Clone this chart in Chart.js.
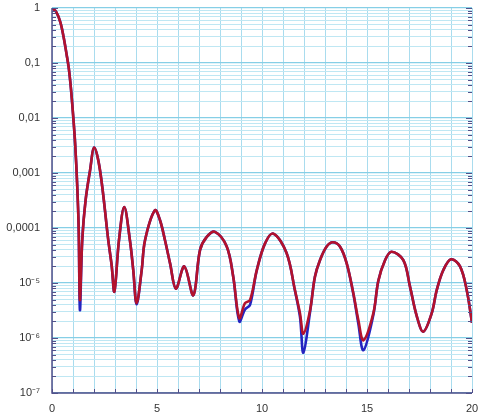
<!DOCTYPE html>
<html>
<head>
<meta charset="utf-8">
<script src="https://cdn.jsdelivr.net/npm/chart.js@4/dist/chart.umd.min.js"></script>
<style>
  html, body { margin: 0; padding: 0; background: #fff; }
  #wrap { width: 480px; height: 419px; }
</style>
</head>
<body>
<div id="wrap"><canvas id="chartCurvas"></canvas></div>
<script>
// abscissa shared by both curves
var xValues = [0, 0.2, 0.4, 0.55, 0.7, 0.8, 0.9, 1.0, 1.1, 1.2, 1.27, 1.33,
    1.44, 1.6, 1.81, 2.01, 2.29, 2.68, 2.84, 2.97,
    3.19, 3.44, 3.71, 3.87, 4.03,
    4.27, 4.43, 4.9, 5.14, 5.38, 5.62, 5.9,
    6.3, 6.73,
    7.05, 7.37, 7.76, 8.32, 8.63, 8.92,
    9.19, 9.43, 9.75, 10.14, 10.54, 11.17, 11.57, 11.81, 11.97,
    12.29, 12.52, 12.76, 13.08, 13.37, 13.71, 14.03, 14.35, 14.59, 14.83,
    15.3, 15.54, 15.86, 16.17, 16.73, 17.05, 17.37, 17.68,
    18.08, 18.32, 18.63, 19.0, 19.43, 19.75, 20];

var redValues = [1, 0.85, 0.55, 0.3, 0.14, 0.08, 0.035, 0.012, 0.0035, 0.0006, 0.0001, 4.9e-6,
    6e-5, 3.2e-4, 1.1e-3, 2.9e-3, 1.1e-3, 6e-5, 2.1e-5, 7e-6,
    6e-5, 2.4e-4, 6e-5, 1.7e-5, 4.3e-6,
    1.7e-5, 6e-5, 2.1e-4, 1.4e-4, 6e-5, 2.3e-5, 7.9e-6,
    2e-5, 6e-6,
    4e-5, 6.9e-5, 8.5e-5, 4.6e-5, 1.3e-5, 2.3e-6,
    4.3e-6, 4.9e-6, 1.7e-5, 5.2e-5, 7.9e-5, 3.5e-5, 7.4e-6, 2.8e-6, 1.2e-6,
    3.2e-6, 1.3e-5, 2.6e-5, 4.6e-5, 5.5e-5, 4.6e-5, 2.3e-5, 6.5e-6, 2.1e-6, 9.1e-7,
    2.8e-6, 1.1e-5, 2.6e-5, 3.7e-5, 2.6e-5, 8.5e-6, 2.5e-6, 1.3e-6,
    2.8e-6, 7.4e-6, 1.7e-5, 2.7e-5, 2e-5, 7.4e-6, 1.9e-6];

var blueValues = [1, 0.85, 0.55, 0.3, 0.14, 0.08, 0.035, 0.012, 0.0035, 0.0006, 0.0001, 3.2e-6,
    6e-5, 3.2e-4, 1.1e-3, 2.9e-3, 1.1e-3, 6e-5, 2.1e-5, 7e-6,
    6e-5, 2.4e-4, 6e-5, 1.7e-5, 4.1e-6,
    1.7e-5, 6e-5, 2.1e-4, 1.4e-4, 6e-5, 2.3e-5, 7.9e-6,
    2e-5, 6e-6,
    4e-5, 6.9e-5, 8.5e-5, 4.6e-5, 1.3e-5, 2e-6,
    3.3e-6, 4e-6, 1.7e-5, 5.2e-5, 7.9e-5, 3.5e-5, 7.2e-6, 2.4e-6, 5.4e-7,
    3e-6, 1.3e-5, 2.6e-5, 4.6e-5, 5.5e-5, 4.6e-5, 2.3e-5, 6.3e-6, 1.8e-6, 6e-7,
    2.6e-6, 1.1e-5, 2.6e-5, 3.7e-5, 2.6e-5, 8.5e-6, 2.5e-6, 1.3e-6,
    2.8e-6, 7.4e-6, 1.7e-5, 2.7e-5, 2e-5, 7.4e-6, 1.9e-6];

// y axis: decades and their labels
var yDecades = [1, 0.1, 0.01, 0.001, 0.0001, 1e-5, 1e-6, 1e-7];
var yTickLabels = ['1', '0,1', '0,01', '0,001', '0,0001', '10\u207B\u2075', '10\u207B\u2076', '10\u207B\u2077'];
var xTickLabels = ['0', '5', '10', '15', '20'];

function pts(ys) {
    return xValues.map(function (x, i) { return {x: x, y: ys[i]}; });
}

function decadeIndex(v) {
    for (var i = 0; i < yDecades.length; i++) {
        if (Math.abs(Math.log10(v) - Math.log10(yDecades[i])) < 1e-6) return i;
    }
    return -1;
}

var axisColor = '#52508a';

// small inward tick marks on the frame
var innerTicks = {
    id: 'innerTicks',
    afterDatasetsDraw: function (chart) {
        var ctx = chart.ctx, a = chart.chartArea;
        var ys = chart.scales.y, xs = chart.scales.x;
        ctx.save();
        ctx.strokeStyle = axisColor;
        ctx.lineWidth = 1;
        ys.ticks.forEach(function (t) {
            var p = Math.round(ys.getPixelForValue(t.value)) + 0.5;
            var len = decadeIndex(t.value) >= 0 ? 6 : 4;
            ctx.beginPath();
            ctx.moveTo(a.left, p); ctx.lineTo(a.left + len, p);
            ctx.moveTo(a.right, p); ctx.lineTo(a.right - len, p);
            ctx.stroke();
        });
        xs.ticks.forEach(function (t) {
            var p = Math.round(xs.getPixelForValue(t.value)) + 0.5;
            ctx.beginPath();
            ctx.moveTo(p, a.bottom); ctx.lineTo(p, a.bottom - 4);
            ctx.stroke();
        });
        ctx.beginPath();
        ctx.lineWidth = 1.5;
        ctx.moveTo(a.left, a.top); ctx.lineTo(a.left, a.bottom); ctx.lineTo(a.right, a.bottom);
        ctx.stroke();
        ctx.restore();
    }
};

function graficoCurvas() {
    var ctx = document.getElementById('chartCurvas').getContext('2d');

    var data = {
        datasets: [{
            label: 'vermelho',
            data: pts(redValues),
            borderColor: '#b3122c',
            borderWidth: 2.6,
            pointRadius: 0,
            tension: 0.35
        }, {
            label: 'azul',
            data: pts(blueValues),
            borderColor: '#2424c0',
            borderWidth: 2.6,
            pointRadius: 0,
            tension: 0.35
        }]
    };

    new Chart(ctx, {
        type: 'line',
        data: data,
        plugins: [innerTicks],
        options: {
            responsive: true,
            maintainAspectRatio: false,
            animation: false,
            layout: { padding: { top: 8, right: 8, left: 0, bottom: 0 } },
            plugins: {
                legend: { display: false },
                tooltip: { enabled: false }
            },
            scales: {
                x: {
                    type: 'linear',
                    min: 0,
                    max: 20,
                    afterFit: function (s) {
                        s.height = 26;
                        s.paddingLeft = 0;
                        s.paddingRight = 0;
                    },
                    grid: {
                        color: '#a9dcee',
                        drawTicks: false
                    },
                    border: { display: false },
                    ticks: {
                        stepSize: 1,
                        autoSkip: false,
                        maxRotation: 0,
                        padding: 9,
                        color: '#333',
                        font: { family: 'Liberation Sans', size: 11 },
                        callback: function (v) {
                            return v % 5 === 0 ? xTickLabels[v / 5] : '';
                        }
                    }
                },
                y: {
                    type: 'logarithmic',
                    min: 1e-7,
                    max: 1,
                    afterFit: function (s) {
                        s.width = 52;
                        s.paddingTop = 0;
                        s.paddingBottom = 0;
                    },
                    afterBuildTicks: function (s) {
                        var t = [];
                        for (var e = -7; e < 0; e++) {
                            for (var m = 1; m < 10; m++) {
                                t.push({value: Number((m * Math.pow(10, e)).toPrecision(3))});
                            }
                        }
                        t.push({value: 1});
                        s.ticks = t;
                    },
                    grid: {
                        color: function (c) {
                            return c.tick && decadeIndex(c.tick.value) >= 0 ? '#86cfe6' : '#bfe7f3';
                        },
                        lineWidth: function (c) {
                            return c.tick && decadeIndex(c.tick.value) >= 0 ? 1.3 : 1;
                        },
                        drawTicks: false
                    },
                    border: { display: false },
                    ticks: {
                        autoSkip: false,
                        padding: 12,
                        color: '#333',
                        font: { family: 'Liberation Sans', size: 11 },
                        callback: function (v) {
                            var i = decadeIndex(v);
                            return i >= 0 ? yTickLabels[i] : '';
                        }
                    }
                }
            }
        }
    });
}

graficoCurvas();
</script>
</body>
</html>
